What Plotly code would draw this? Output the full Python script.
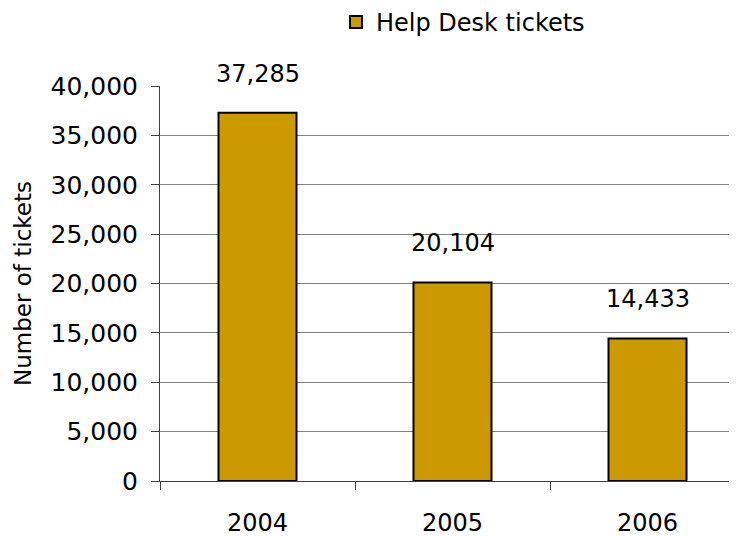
import plotly.graph_objects as go

years = ["2004", "2005", "2006"]
tickets = [37285, 20104, 14433]
tick_vals = [0, 5000, 10000, 15000, 20000, 25000, 30000, 35000, 40000]
tick_text = ["0", "5,000", "10,000", "15,000", "20,000", "25,000", "30,000", "35,000", "40,000"]

FONT = "DejaVu Sans, Verdana, sans-serif"

fig = go.Figure()
fig.add_trace(go.Bar(
    x=years, y=tickets, name="Help Desk tickets",
    marker=dict(color="#CC9900", line=dict(color="#000000", width=2)),
    showlegend=True,
))

for i, v in enumerate(tickets):
    fig.add_annotation(x=i, y=v, xref="x", yref="y", text=f"{v:,}",
                       showarrow=False, yanchor="bottom", yshift=23,
                       font=dict(family=FONT, size=24, color="#000000"))

fig.update_layout(
    width=737, height=536,
    margin=dict(l=152, r=8, t=78, b=63, autoexpand=False),
    paper_bgcolor="white", plot_bgcolor="white",
    font=dict(family=FONT, size=24, color="#000000"),
    bargap=0.6,
    showlegend=True,
    legend=dict(orientation="h", x=0.305, xanchor="left", xref="paper",
                y=1.218, yref="paper", yanchor="top",
                font=dict(family=FONT, size=24), bgcolor="rgba(0,0,0,0)",
                itemwidth=30),
    xaxis=dict(type="category", range=[-0.5, 2.459], showline=True,
               linecolor="#404040", linewidth=1, ticks="outside",
               tickson="boundaries", ticklen=8, tickcolor="#404040",
               showgrid=False, ticklabelstandoff=20,
               tickfont=dict(family=FONT, size=24)),
    yaxis=dict(range=[0, 40000], tickvals=tick_vals, ticktext=tick_text,
               showline=True, linecolor="#404040", linewidth=1,
               ticks="outside", ticklen=8, tickcolor="#404040",
               showgrid=True, gridcolor="#808080", gridwidth=1,
               zeroline=False, ticklabelstandoff=8,
               tickfont=dict(family=FONT, size=25),
               title=dict(text="Number of tickets", standoff=12,
                          font=dict(family=FONT, size=23))),
)

fig.write_html("out.html")
